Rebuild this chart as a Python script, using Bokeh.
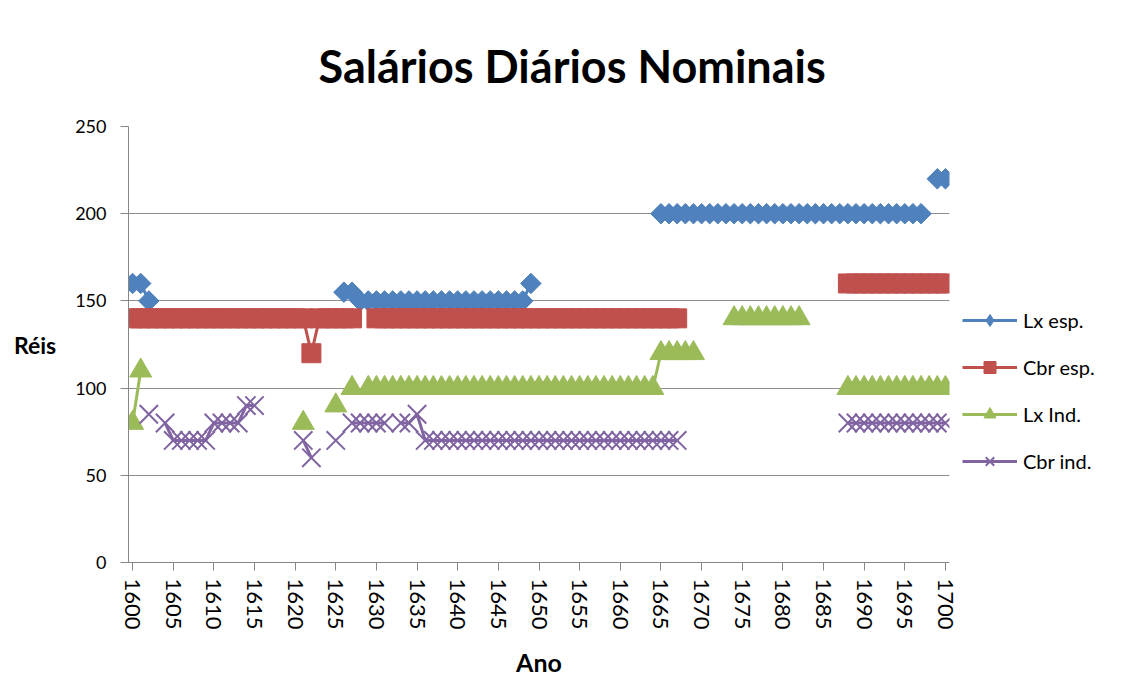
import math
from bokeh.plotting import figure
from bokeh.models import Legend, LegendItem, FixedTicker, Range1d, ColumnDataSource
from bokeh.embed import file_html
from bokeh.resources import INLINE

N = None
years = list(range(1600, 1701))

# Lx esp. (1600..1700)
lx_esp = [
    160, 160, 150, N, N, N, N, N, N, N,            # 1600s
    N, N, N, N, N, N, N, N, N, N,                  # 1610s
    N, N, N, N, N, N, 155, 155, 150, 150,          # 1620s
    150, 150, 150, 150, 150, 150, 150, 150, 150, 150,  # 1630s
    150, 150, 150, 150, 150, 150, 150, 150, 150, 160,  # 1640s
    N, N, N, N, N, N, N, N, N, N,                  # 1650s
    N, N, N, N, N, 200, 200, 200, 200, 200,        # 1660s
    200, 200, 200, 200, 200, 200, 200, 200, 200, 200,  # 1670s
    200, 200, 200, 200, 200, 200, 200, 200, 200, 200,  # 1680s
    200, 200, 200, 200, 200, 200, 200, 200, N, 220,    # 1690s
    220,                                               # 1700
]

# Cbr esp.
cbr_esp = [
    140, 140, 140, 140, 140, 140, 140, 140, 140, 140,
    140, 140, 140, 140, 140, 140, 140, 140, 140, 140,
    140, 140, 120, 140, 140, 140, 140, 140, N, N,
    140, 140, 140, 140, 140, 140, 140, 140, 140, 140,
    140, 140, 140, 140, 140, 140, 140, 140, 140, 140,
    140, 140, 140, 140, 140, 140, 140, 140, 140, 140,
    140, 140, 140, 140, 140, 140, 140, 140, N, N,
    N, N, N, N, N, N, N, N, N, N,
    N, N, N, N, N, N, N, N, 160, 160,
    160, 160, 160, 160, 160, 160, 160, 160, 160, 160,
    160,
]

# Lx Ind.
lx_ind = [
    80, 110, N, N, N, N, N, N, N, N,
    N, N, N, N, N, N, N, N, N, N,
    N, 80, N, N, N, 90, N, 100, N, 100,
    100, 100, 100, 100, 100, 100, 100, 100, 100, 100,
    100, 100, 100, 100, 100, 100, 100, 100, 100, 100,
    100, 100, 100, 100, 100, 100, 100, 100, 100, 100,
    100, 100, 100, 100, 100, 120, 120, 120, 120, 120,
    N, N, N, N, 140, 140, 140, 140, 140, 140,
    140, 140, 140, N, N, N, N, N, 100, 100,
    100, 100, 100, 100, 100, 100, 100, 100, 100, 100,
    100,
]

# Cbr ind.
cbr_ind = [
    N, N, 85, N, 80, 70, 70, 70, 70, 70,
    80, 80, 80, 80, 90, 90, N, N, N, N,
    N, 70, 60, N, N, 70, N, 80, 80, 80,
    80, 80, N, 80, 80, 85, 70, 70, 70, 70,
    70, 70, 70, 70, 70, 70, 70, 70, 70, 70,
    70, 70, 70, 70, 70, 70, 70, 70, 70, 70,
    70, 70, 70, 70, 70, 70, 70, 70, N, N,
    N, N, N, N, N, N, N, N, N, N,
    N, N, N, N, N, N, N, N, 80, 80,
    80, 80, 80, 80, 80, 80, 80, 80, 80, 80,
    80,
]

series_names = ["Lx esp.", "Cbr esp.", "Lx Ind.", "Cbr ind."]
y_ticks = [0, 50, 100, 150, 200, 250]
x_ticks = list(range(1600, 1701, 5))

def clean(v):
    return [float("nan") if a is None else a for a in v]

FONT = "Lato"
GRID = "#8c8c8c"

p = figure(frame_width=821, frame_height=436,
           x_range=Range1d(1599.5, 1700.5), y_range=Range1d(0, 250),
           output_backend="svg", toolbar_location=None,
           min_border_left=128, min_border_right=171,
           min_border_top=126, min_border_bottom=112,
           background_fill_color="white", border_fill_color="white")
p.outline_line_color = None
p.xgrid.grid_line_color = None
p.ygrid.grid_line_color = GRID
p.ygrid.grid_line_width = 1
p.ygrid.ticker = FixedTicker(ticks=y_ticks)

p.title.text = "Salários Diários Nominais"
p.title.text_font = FONT
p.title.text_font_style = "bold"
p.title.text_font_size = "45px"
p.title.text_color = "black"
p.title.align = "left"
p.title.offset = 190
p.title.standoff = 68

p.yaxis.ticker = FixedTicker(ticks=y_ticks)
p.xaxis.ticker = FixedTicker(ticks=x_ticks)
for ax in (p.xaxis[0], p.yaxis[0]):
    ax.axis_line_color = "#868686"
    ax.major_tick_line_color = "#868686"
    ax.minor_tick_line_color = None
    ax.major_tick_in = 0
    ax.major_tick_out = 8
    ax.major_label_text_font = FONT
    ax.major_label_text_color = "black"
    ax.axis_label_text_font = FONT
    ax.axis_label_text_font_style = "bold"
    ax.axis_label_text_color = "black"
p.xaxis.major_label_orientation = "vertical"
p.xaxis.major_label_text_font_size = "22px"
p.xaxis.major_label_standoff = 8
p.xaxis.axis_label = "Ano"
p.xaxis.axis_label_text_font_size = "25px"
p.xaxis.axis_label_standoff = 14
p.yaxis.major_label_text_font_size = "18px"
p.yaxis.major_label_standoff = 14
p.yaxis.axis_label = "Réis"
p.yaxis.axis_label_text_font_size = "23px"
p.yaxis.axis_label_standoff = 16
try:
    p.yaxis.axis_label_orientation = "horizontal"
except Exception:
    pass

styles = [
    ("square", 14.5, math.pi / 4, "#4F81BD", 1, "diamond"),
    ("square", 19, 0, "#C0504D", 1, None),
    ("triangle", 22, 0, "#9BBB59", 1, None),
    ("x", 26, 0, "#8064A2", 2, None),
]
data = [lx_esp, cbr_esp, lx_ind, cbr_ind]
items = []
for name, vals, (mk, sz, ang, col, mlw, leg_mk) in zip(series_names, data, styles):
    src = ColumnDataSource(dict(x=years, y=clean(vals)))
    ln = p.line("x", "y", source=src, line_color=col, line_width=3)
    sc = p.scatter("x", "y", source=src, marker=mk, size=sz, angle=ang,
                   fill_color=col, line_color=col, line_width=mlw)
    leg_sc = sc
    if leg_mk is not None:
        # legend-only marker shape (the plotted one is a rotated square)
        leg_sc = p.scatter(x=[float("nan")], y=[float("nan")], marker=leg_mk,
                           size=sz, fill_color=col, line_color=col, line_width=1)
    items.append(LegendItem(label=name, renderers=[ln, leg_sc]))

legend = Legend(items=items, location=(13, 86), orientation="vertical",
                glyph_width=55, glyph_height=30, label_height=30, spacing=17,
                padding=10, margin=0, label_standoff=6,
                label_text_font=FONT, label_text_font_size="20px",
                label_text_color="black",
                background_fill_alpha=0, border_line_color=None)
p.add_layout(legend, "right")

open("out.html", "w").write(file_html(p, INLINE))
